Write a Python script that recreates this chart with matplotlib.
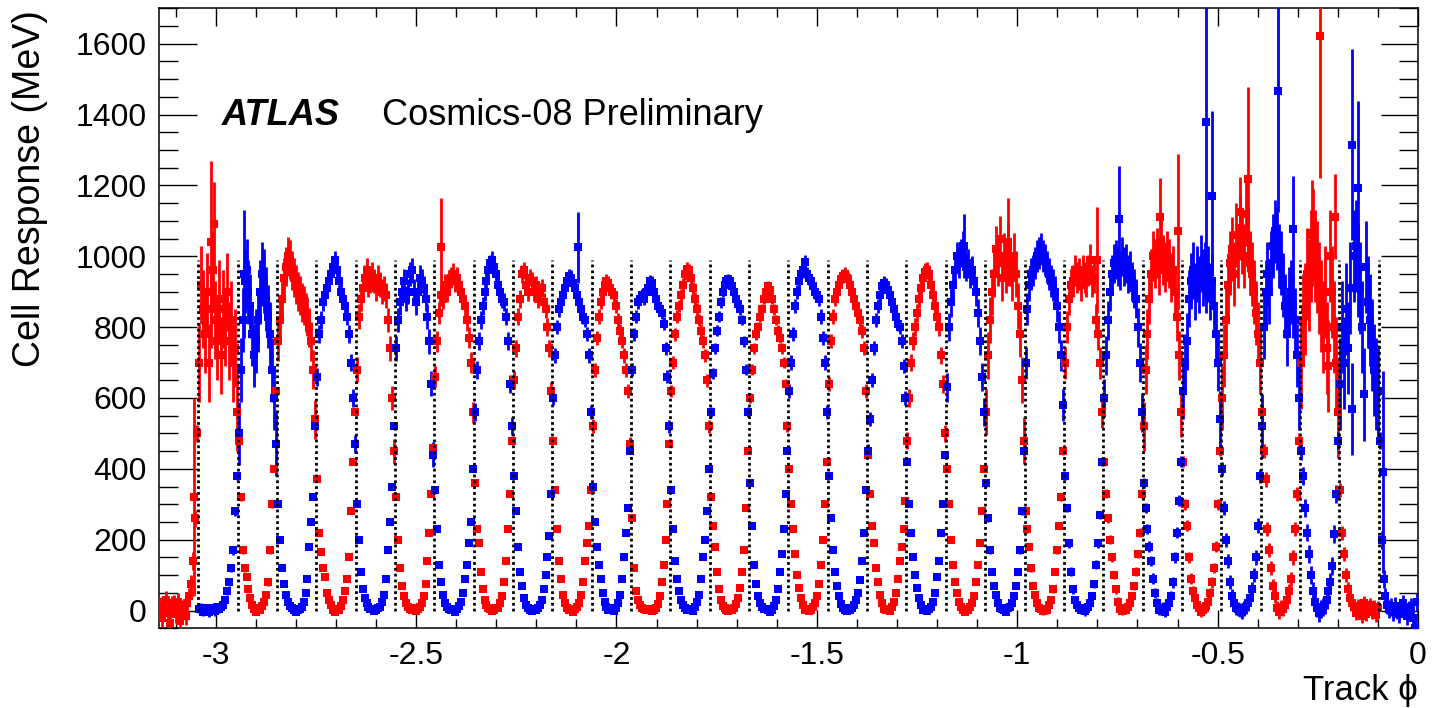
import numpy as np
import matplotlib.pyplot as plt
from matplotlib.ticker import MultipleLocator, FuncFormatter

plt.rcParams['font.family'] = ['Liberation Sans', 'DejaVu Sans']
plt.rcParams['axes.unicode_minus'] = False

# module boundaries in track phi (pi/32 wide modules)
module_edges = [-3.1416, -3.0434, -2.9452, -2.8471, -2.7489, -2.6507, -2.5525,
                -2.4544, -2.3562, -2.2580, -2.1598, -2.0617, -1.9635, -1.8653,
                -1.7671, -1.6690, -1.5708, -1.4726, -1.3744, -1.2763, -1.1781,
                -1.0799, -0.9817, -0.8836, -0.7854, -0.6872, -0.5890, -0.4909,
                -0.3927, -0.2945, -0.1963, -0.0982, 0.0]

# red cells: one row of 20 bins per module, modules 0..30
red_rows = [
    [12, -20, 5, 30, -8, -35, 15, 20, -10, 25, -30, 5, 8, -15, 20, 40, 75, 140, 260, 500],
    [700, 920, 850, 780, 900, 700, 850, 960, 820, 760, 880, 720, 850, 800, 900, 760, 820, 700, 740, 560],
    [480, 320, 170, 120, 95, 60, 36, 15, 5, -3, 6, 2, 12, 25, 45, 80, 170, 300, 400, 620],
    [760, 820, 880, 940, 970, 1000, 990, 960, 940, 920, 900, 890, 870, 860, 840, 830, 800, 760, 680, 540],
    [370, 220, 165, 120, 95, 50, 30, 15, 2, -4, 5, 1, 12, 30, 55, 90, 150, 280, 420, 560],
    [680, 830, 880, 910, 940, 960, 920, 930, 950, 930, 910, 940, 920, 900, 910, 890, 820, 740, 600, 450],
    [320, 200, 120, 70, 40, 20, 10, 5, 3, 6, -2, 4, 10, 20, 40, 75, 140, 220, 330, 460],
    [660, 760, 840, 890, 880, 920, 900, 930, 940, 950, 930, 940, 920, 900, 880, 860, 820, 770, 700, 560],
    [360, 230, 190, 110, 60, 30, 15, 6, 4, -1, 3, 7, 8, 20, 40, 80, 140, 230, 330, 480],
    [650, 740, 830, 880, 950, 960, 920, 900, 940, 930, 900, 920, 880, 900, 910, 870, 850, 800, 740, 620],
    [480, 340, 230, 140, 90, 45, 20, 8, 2, 4, -3, 5, 10, 20, 45, 80, 140, 190, 240, 340],
    [520, 680, 770, 830, 870, 900, 920, 930, 925, 910, 900, 890, 860, 820, 790, 760, 720, 680, 620, 470],
    [260, 120, 55, 30, 15, 8, 4, 2, 4, 1, -2, 3, 8, 18, 40, 80, 130, 200, 300, 470],
    [620, 700, 780, 830, 860, 890, 920, 950, 965, 960, 940, 910, 880, 850, 820, 790, 760, 720, 650, 520],
    [320, 240, 180, 110, 60, 30, 14, 6, 3, -1, 4, 2, 8, 18, 35, 65, 110, 170, 290, 450],
    [600, 680, 740, 780, 800, 830, 850, 880, 900, 915, 905, 880, 850, 820, 790, 770, 740, 700, 640, 520],
    [400, 300, 230, 160, 100, 64, 36, 15, 2, 5, -1, 3, 10, 20, 40, 75, 130, 200, 300, 420],
    [640, 760, 830, 880, 900, 920, 935, 945, 950, 940, 935, 920, 900, 880, 860, 840, 820, 790, 740, 620],
    [440, 330, 240, 190, 120, 80, 45, 20, 4, 1, 3, -2, 10, 25, 50, 90, 140, 180, 230, 310],
    [480, 600, 700, 760, 800, 840, 880, 910, 940, 955, 960, 950, 920, 890, 860, 830, 800, 720, 640, 500],
    [400, 300, 200, 130, 80, 50, 25, 10, 3, -3, 5, 2, 10, 20, 40, 80, 130, 190, 280, 400],
    [560, 720, 820, 900, 950, 1020, 980, 1050, 940, 1000, 960, 1030, 980, 940, 1000, 950, 860, 780, 650, 480],
    [280, 230, 180, 120, 70, 45, 20, 8, 5, -2, 3, 1, 15, 30, 60, 110, 170, 240, 320, 450],
    [700, 800, 880, 920, 930, 960, 940, 950, 920, 960, 940, 930, 960, 990, 930, 940, 820, 780, 700, 560],
    [420, 330, 260, 200, 150, 100, 60, 25, 4, -1, 6, 2, 10, 20, 40, 70, 110, 160, 220, 330],
    [520, 680, 780, 880, 950, 1000, 980, 1010, 960, 1040, 990, 970, 1000, 980, 940, 960, 900, 830, 720, 560],
    [420, 300, 240, 150, 90, 55, 35, 15, 6, -4, 3, 8, 12, 25, 50, 80, 120, 180, 300, 450],
    [600, 720, 820, 920, 980, 1020, 950, 1060, 1000, 1080, 1040, 1000, 1120, 1050, 980, 950, 900, 840, 780, 700],
    [560, 450, 370, 230, 170, 120, 70, 40, 8, -5, 10, 4, 15, 30, 55, 90, 150, 230, 330, 480],
    [700, 820, 850, 950, 920, 1000, 1060, 1000, 970, 910, 860, 800, 900, 740, 690, 1000, 900, 800, 700, 560],
    [340, 220, 160, 100, 60, 35, 20, 10, -8, 12, 5, -15, 20, -10, 8, 15, -5, 10, -12, 6],
]
red_err = [25, 110, 10, 55, 8, 35, 6, 30, 6, 25, 5, 20, 5, 18, 5, 15,
           5, 20, 5, 25, 8, 65, 10, 45, 12, 70, 15, 90, 20, 130, 20]

# blue cells: modules 1..31
blue_rows = [
    [4, 8, -3, 6, 2, -5, 7, 3, -2, 9, 5, 10, 15, 30, 55, 80, 120, 170, 280, 380],
    [500, 680, 820, 930, 960, 900, 860, 780, 720, 760, 820, 900, 950, 930, 880, 830, 780, 680, 600, 470],
    [300, 200, 120, 75, 45, 25, 12, 6, 3, -4, 2, 5, 10, 25, 50, 90, 180, 250, 320, 520],
    [660, 780, 820, 870, 890, 910, 930, 950, 970, 990, 960, 930, 900, 880, 860, 830, 780, 700, 600, 470],
    [300, 200, 110, 60, 35, 20, 10, 5, 4, -2, 3, 6, 10, 25, 45, 90, 170, 250, 350, 520],
    [740, 820, 870, 900, 930, 880, 900, 950, 960, 900, 870, 900, 940, 930, 910, 880, 830, 760, 640, 440],
    [340, 230, 130, 80, 45, 22, 10, 5, 2, 5, -3, 4, 12, 25, 50, 90, 130, 190, 250, 400],
    [560, 680, 760, 820, 860, 900, 930, 960, 980, 990, 970, 950, 920, 900, 880, 870, 830, 760, 640, 520],
    [380, 280, 180, 110, 70, 36, 15, 6, 3, -2, 5, 2, 8, 15, 30, 60, 100, 150, 210, 330],
    [600, 720, 800, 850, 870, 890, 910, 930, 945, 940, 925, 910, 890, 870, 850, 830, 820, 780, 720, 560],
    [350, 250, 180, 130, 90, 50, 25, 10, 3, 6, 2, -1, 8, 20, 45, 90, 150, 220, 290, 450],
    [680, 780, 830, 870, 880, 890, 880, 900, 910, 930, 925, 900, 880, 860, 850, 840, 810, 740, 660, 520],
    [340, 230, 140, 90, 55, 30, 15, 6, 2, 5, 1, -2, 10, 25, 45, 90, 150, 200, 280, 400],
    [560, 670, 740, 790, 830, 870, 900, 920, 930, 935, 930, 915, 900, 880, 865, 850, 820, 760, 680, 560],
    [360, 240, 130, 75, 40, 20, 9, 4, 4, 2, -3, 3, 12, 30, 60, 110, 160, 230, 330, 450],
    [620, 700, 780, 860, 900, 930, 950, 960, 985, 950, 940, 930, 915, 900, 890, 880, 830, 770, 700, 560],
    [380, 260, 170, 110, 70, 40, 18, 7, 3, -2, 6, 2, 8, 15, 30, 50, 85, 140, 220, 340],
    [450, 540, 650, 740, 820, 860, 890, 915, 925, 920, 905, 890, 870, 850, 830, 810, 800, 760, 690, 600],
    [420, 300, 220, 150, 100, 65, 35, 15, 2, 4, -1, 5, 10, 25, 50, 95, 140, 220, 300, 440],
    [630, 800, 870, 920, 960, 1000, 980, 1010, 1030, 990, 970, 980, 950, 960, 930, 900, 840, 760, 660, 560],
    [360, 260, 170, 110, 70, 45, 20, 8, 4, 2, -3, 6, 10, 20, 40, 70, 110, 170, 280, 450],
    [700, 850, 920, 950, 960, 980, 1000, 1010, 1020, 1000, 990, 970, 950, 930, 920, 900, 860, 800, 720, 580],
    [380, 290, 190, 110, 60, 30, 15, 6, 3, 6, -2, 4, 10, 20, 40, 75, 130, 190, 270, 420],
    [600, 720, 820, 900, 950, 980, 990, 970, 960, 1000, 970, 980, 950, 960, 930, 910, 880, 800, 700, 560],
    [360, 290, 230, 180, 140, 90, 50, 20, 2, 5, 8, -3, 10, 20, 40, 80, 150, 220, 310, 420],
    [620, 700, 760, 880, 930, 960, 900, 950, 920, 980, 940, 960, 920, 950, 900, 930, 860, 780, 700, 540],
    [400, 290, 200, 140, 80, 40, 20, 8, 5, 2, -4, 6, 10, 20, 35, 60, 100, 150, 240, 380],
    [520, 800, 900, 950, 900, 980, 1030, 1070, 1050, 1000, 980, 920, 860, 780, 880, 900, 860, 820, 720, 600],
    [450, 380, 290, 220, 160, 100, 55, 25, 6, -8, 4, 10, 15, 30, 55, 80, 125, 217, 330, 480],
    [640, 800, 700, 850, 740, 910, 570, 1000, 1030, 960, 910, 800, 610, 970, 870, 820, 750, 680, 640, 620],
    [480, 200, 90, 40, 15, 5, 10, -5, 12, 0, -10, 8, 20, 5, -15, 3, 10, -20, -50, 25],
]
blue_err = [12, 90, 8, 25, 6, 35, 6, 25, 5, 20, 5, 18, 5, 15, 5, 20,
            5, 20, 6, 40, 10, 45, 12, 55, 15, 80, 20, 90, 25, 130, 25]

# low-statistics bins with large errors
red_spike_phi = [-3.053, -3.012, -3.005, -2.438, -1.024, -0.800, -0.643,
                 -0.598, -0.443, -0.423, -0.264, -0.244, -0.207]
red_spike_val = [320, 1040, 1090, 1025, 1040, 990, 1110, 1070, 1125, 1217, 1065, 1622, 1112]
red_spike_err = [280, 230, 120, 140, 125, 150, 110, 220, 100, 260, 150, 400, 120]

blue_spike_phi = [-2.930, -2.097, -1.133, -0.747, -0.530, -0.514, -0.349,
                  -0.311, -0.165, -0.149, -0.087]
blue_spike_val = [950, 1025, 1028, 1104, 1380, 1170, 1466, 1077, 1315, 1193, 392]
blue_spike_err = [180, 100, 90, 150, 390, 240, 340, 150, 270, 245, 285]


def series_points(rows, errs, first_module):
    phi, val, err, half = [], [], [], []
    for j, row in enumerate(rows):
        k = first_module + j
        lo, hi = module_edges[k], module_edges[k + 1]
        w = (hi - lo) / len(row)
        for i, v in enumerate(row):
            phi.append(lo + (i + 0.5) * w)
            val.append(v)
            err.append(errs[j])
            half.append(w / 2)
    return np.array(phi), np.array(val), np.array(err), np.array(half)


fig = plt.figure(figsize=(14.32, 7.08), dpi=100)
ax = fig.add_axes([0.1110, 0.1126, 0.8792, 0.8757])

style = dict(fmt='s', ms=6.0, mew=0, elinewidth=2.0, capsize=0, zorder=3)
for rows, errs, first, sp_phi, sp_val, sp_err, col in [
        (red_rows, red_err, 0, red_spike_phi, red_spike_val, red_spike_err, '#ff0000'),
        (blue_rows, blue_err, 1, blue_spike_phi, blue_spike_val, blue_spike_err, '#0000ff')]:
    phi, val, err, half = series_points(rows, errs, first)
    ax.errorbar(phi, val, yerr=err, xerr=half, color=col, **style)
    ax.errorbar(sp_phi, sp_val, yerr=sp_err, xerr=0.0025, color=col, **style)

# module boundaries
ax.vlines(module_edges[1:-1], 0, 990, colors='black', linewidth=2.0,
          linestyles=(0, (1.0, 1.1)), zorder=4)

ax.set_xlim(-np.pi, 0)
ax.set_ylim(-50, 1700)
ax.xaxis.set_major_locator(MultipleLocator(0.5))
ax.xaxis.set_minor_locator(MultipleLocator(0.1))
ax.yaxis.set_major_locator(MultipleLocator(200))
ax.yaxis.set_minor_locator(MultipleLocator(50))
ax.xaxis.set_major_formatter(FuncFormatter(lambda v, p: '%g' % v))
ax.yaxis.set_major_formatter(FuncFormatter(lambda v, p: '%g' % v))

ax.tick_params(which='both', direction='in', top=True, right=True, width=1.0,
               labelsize=23)
ax.tick_params(axis='x', which='major', length=13, pad=9)
ax.tick_params(axis='x', which='minor', length=6.5)
ax.tick_params(axis='y', which='major', length=27, pad=9)
ax.tick_params(axis='y', which='minor', length=13.5)
for s in ax.spines.values():
    s.set_linewidth(1.1)

ax.set_ylabel('Cell Response (MeV)', fontsize=27, loc='top')
ax.yaxis.set_label_coords(-0.088, 0.997)
ax.set_xlabel('Track \u03d5', fontsize=25, loc='right')
ax.xaxis.set_label_coords(1.0, -0.073)

ax.text(-2.985, 1370, 'ATLAS', fontsize=26, fontweight='bold', fontstyle='italic')
ax.text(-2.585, 1370, 'Cosmics-08 Preliminary', fontsize=26)

fig.savefig('out.png', dpi=100)
